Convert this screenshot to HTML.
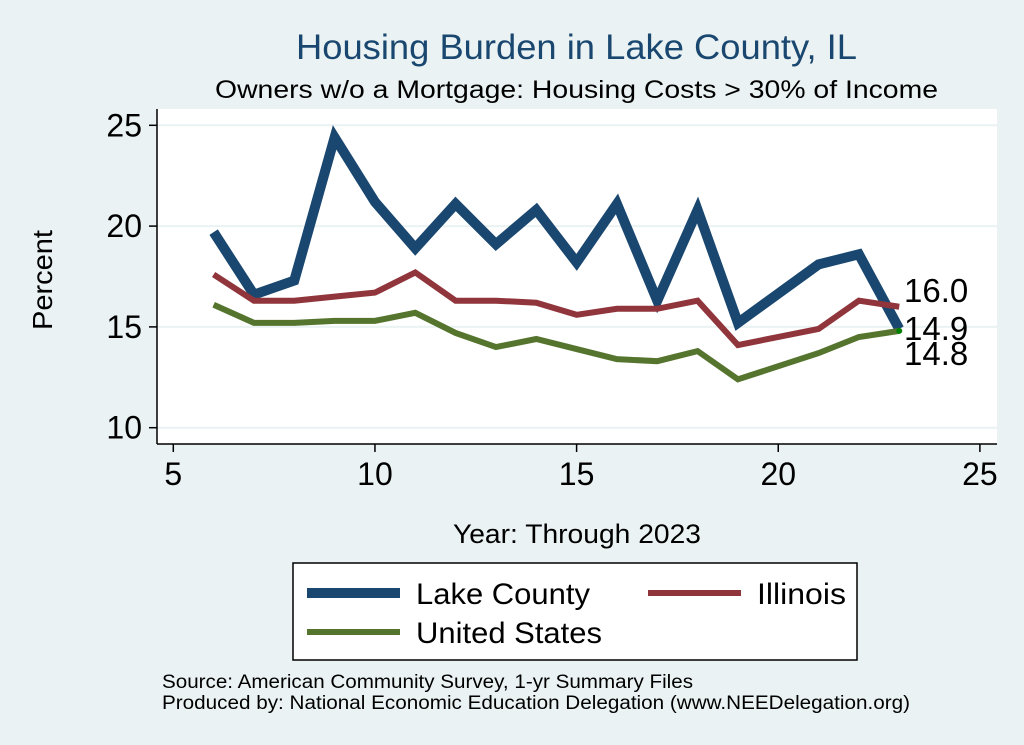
<!DOCTYPE html>
<html><head><meta charset="utf-8"><style>
body{margin:0;background:#eaf2f3;}
svg{display:block;font-family:"Liberation Sans",sans-serif;}
</style></head><body>
<svg id="chart" width="1024" height="745">
<rect x="0" y="0" width="1024" height="745" fill="#eaf2f3"/>
<rect x="157" y="109" width="840" height="335" fill="#fff"/>
<text x="296" y="59" textLength="561" lengthAdjust="spacingAndGlyphs" font-size="35" fill="#1a476f">Housing Burden in Lake County, IL</text>
<text x="215" y="98" textLength="723" lengthAdjust="spacingAndGlyphs" font-size="25" fill="#000">Owners w/o a Mortgage: Housing Costs &gt; 30% of Income</text>
<g id="grid"></g>
<g id="axes"></g>
<g id="series"></g>
<text x="52" y="280" text-anchor="middle" font-size="28" transform="rotate(-90 52 280)" textLength="100" lengthAdjust="spacingAndGlyphs">Percent</text>
<text x="453" y="543" textLength="248" lengthAdjust="spacingAndGlyphs" font-size="27">Year: Through 2023</text>
<g>
<rect x="293" y="563" width="564" height="97" fill="#fff" stroke="#000" stroke-width="1.5"/>
<line x1="307" y1="593" x2="400" y2="593" stroke="#1a476f" stroke-width="10"/>
<text x="416" y="604" font-size="30" textLength="174" lengthAdjust="spacingAndGlyphs">Lake County</text>
<line x1="648" y1="593" x2="741" y2="593" stroke="#90353b" stroke-width="6"/>
<text x="757" y="604" font-size="30" textLength="89" lengthAdjust="spacingAndGlyphs">Illinois</text>
<line x1="307" y1="632" x2="400" y2="632" stroke="#55752f" stroke-width="6"/>
<text x="416" y="643" font-size="30" textLength="186" lengthAdjust="spacingAndGlyphs">United States</text>
</g>
<text x="162" y="688" font-size="19" textLength="531" lengthAdjust="spacingAndGlyphs">Source: American Community Survey, 1-yr Summary Files</text>
<text x="162" y="709" font-size="19" textLength="748" lengthAdjust="spacingAndGlyphs">Produced by: National Economic Education Delegation (www.NEEDelegation.org)</text>
</svg>
<script>
const years=[6,7,8,9,10,11,12,13,14,15,16,17,18,19,21,22,23];
const lake=[19.7,16.6,17.3,24.4,21.2,18.9,21.1,19.1,20.8,18.2,21.1,16.3,20.8,15.2,18.1,18.6,14.9];
const illinois=[17.6,16.3,16.3,16.5,16.7,17.7,16.3,16.3,16.2,15.6,15.9,15.9,16.3,14.1,14.9,16.3,16.0];
const us=[16.1,15.2,15.2,15.3,15.3,15.7,14.7,14.0,14.4,13.9,13.4,13.3,13.8,12.4,13.7,14.5,14.8];
const xTicks=[5,10,15,20,25];
const yTicks=[10,15,20,25];
const NS="http://www.w3.org/2000/svg";
function X(v){return 173.3+(v-5)*40.33;}
function Y(v){return 427.7-(v-10)*20.16;}
function mk(t,a,p){const e=document.createElementNS(NS,t);for(const k in a)e.setAttribute(k,a[k]);p.appendChild(e);return e;}
const grid=document.getElementById('grid'),axes=document.getElementById('axes'),ser=document.getElementById('series');
yTicks.forEach(v=>{
 const g=mk('line',{x1:157,x2:997,y1:Y(v),y2:Y(v),stroke:'#eaf2f3','stroke-width':2},grid);
 
 
 mk('line',{x1:149,x2:157,y1:Y(v),y2:Y(v),stroke:'#000','stroke-width':1.5},axes);
 const t=mk('text',{x:142,y:Y(v)+11,'text-anchor':'end','font-size':32},axes);t.textContent=v;
 
 
});
xTicks.forEach(v=>{
 mk('line',{x1:X(v),x2:X(v),y1:444,y2:452,stroke:'#000','stroke-width':1.5},axes);
 const t=mk('text',{x:X(v),y:485,'text-anchor':'middle','font-size':32},axes);t.textContent=v;
 
 
});
mk('line',{x1:157,x2:157,y1:109,y2:444,stroke:'#000','stroke-width':1.5},axes);
mk('line',{x1:157,x2:997,y1:444,y2:444,stroke:'#000','stroke-width':1.5},axes);
function line(vals,color,w,name){
 const p=mk('polyline',{points:years.map((y,i)=>X(y)+','+Y(vals[i])).join(' '),fill:'none',stroke:color,'stroke-width':w,'stroke-linejoin':'miter'},ser);
 
 
}
line(lake,'#1a476f',10,'lake-county-line');
line(illinois,'#90353b',6,'illinois-line');
line(us,'#55752f',6,'united-states-line');
const n=years.length-1;
mk('circle',{cx:X(years[n]),cy:Y(us[n]),r:3,fill:'#008000'},ser);
[[illinois,302],[lake,340],[us,365]].forEach(([s,yy])=>{
 const t=mk('text',{x:904,y:yy,'font-size':33},ser);t.textContent=s[n].toFixed(1);
 
 
});
</script>
</body></html>
